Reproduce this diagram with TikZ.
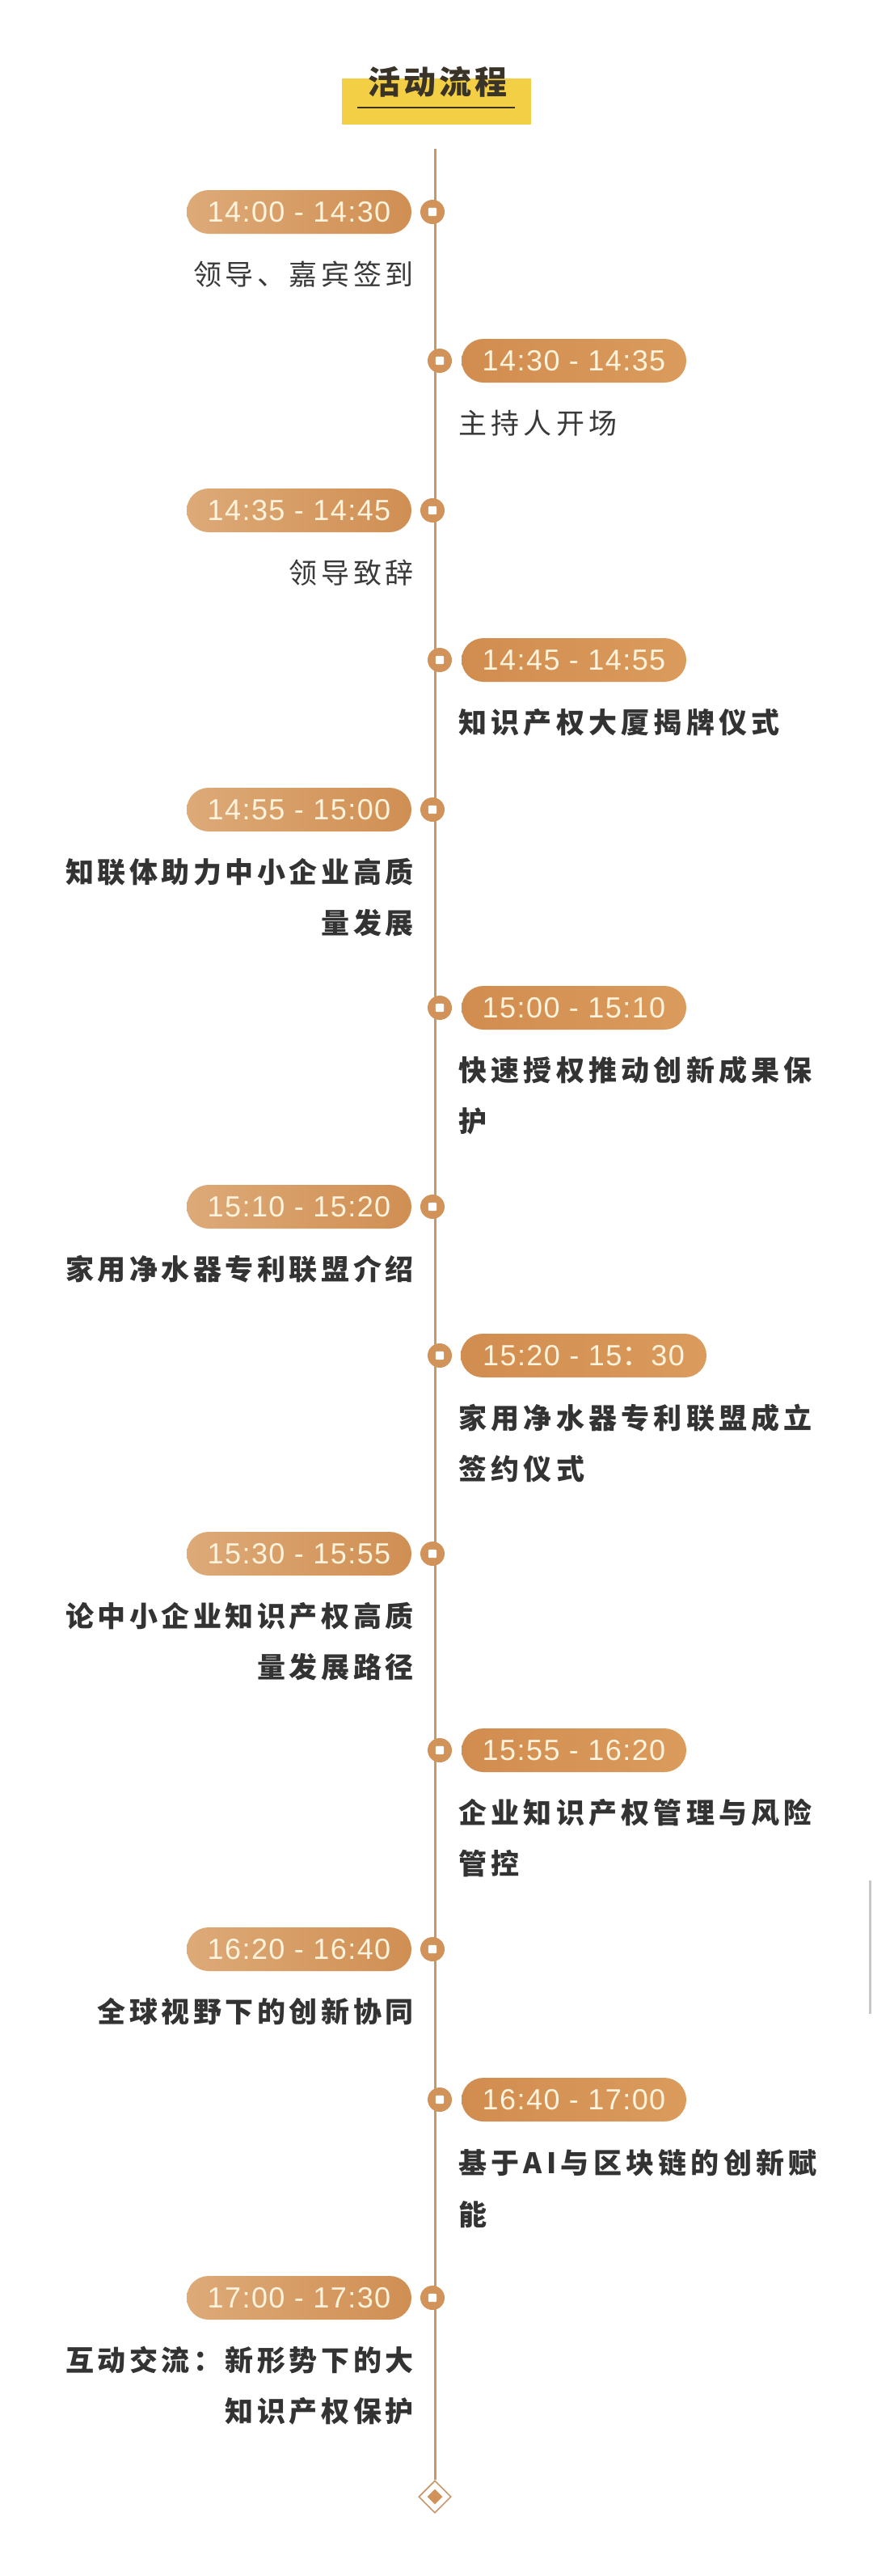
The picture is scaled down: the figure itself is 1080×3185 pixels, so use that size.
\documentclass[tikz,border=0pt]{standalone}
\usepackage{fontspec}
\usetikzlibrary{shapes.geometric}
\setmainfont{Liberation Sans}
\newfontfamily\numfont[LetterSpace=4]{Liberation Sans}
\newfontfamily\cjk[LetterSpace=13]{Noto Sans CJK SC}
\newfontfamily\cjkr[LetterSpace=15]{Noto Sans CJK SC}
\newfontfamily\titlefont[LetterSpace=10]{Noto Sans CJK SC}
\newfontfamily\cjkplain{Noto Sans CJK SC}
\definecolor{pillA}{HTML}{DDAA78}
\definecolor{pillB}{HTML}{D08F53}
\definecolor{pillC}{HTML}{D18D4F}
\definecolor{pillD}{HTML}{DA9B5D}
\definecolor{pilltext}{HTML}{FFF3DC}
\definecolor{dotc}{HTML}{D2935A}
\definecolor{linec}{HTML}{C9976C}
\definecolor{txtreg}{HTML}{3A3A3A}
\definecolor{txtbold}{HTML}{333333}
\definecolor{titleyellow}{HTML}{F2CF44}
\definecolor{titletext}{HTML}{3A3328}
\definecolor{scrollc}{HTML}{C8C8CC}
\tikzset{
  pillL/.style={rectangle, rounded corners=13.5pt, minimum width=139pt, minimum height=27pt, inner sep=0pt,
    left color=pillA, right color=pillB, text=pilltext, font=\numfont\fontsize{18pt}{20pt}\selectfont},
  pillR/.style={pillL, left color=pillC, right color=pillD},
  dotnode/.style={circle, fill=dotc, minimum size=15pt, inner sep=0pt,
    path picture={\fill[white, rounded corners=1pt]
      ([shift={(-2.6pt,-2.6pt)}]path picture bounding box.center) rectangle
      ([shift={(2.6pt,2.6pt)}]path picture bounding box.center);}},
  ltreg/.style={anchor=base east, inner sep=0pt, text=txtreg, font=\cjk\fontsize{17.5pt}{20pt}\selectfont},
  rtreg/.style={anchor=base west, inner sep=0pt, text=txtreg, font=\cjkr\fontsize{17.5pt}{20pt}\selectfont},
  ltb/.style={anchor=base east, inner sep=0pt, text=txtbold, font=\cjk\bfseries\fontsize{17.5pt}{20pt}\selectfont},
  rtb/.style={anchor=base west, inner sep=0pt, text=txtbold, font=\cjkr\bfseries\fontsize{17.5pt}{20pt}\selectfont},
}
\begin{document}
\begin{tikzpicture}[x=0.5pt, y=-0.5pt]
\useasboundingbox (0,0) rectangle (1080,3185);
\fill[white] (0,0) rectangle (1080,3185);
% scrollbar artefact at right edge
\fill[scrollc] (1074.5,2325) rectangle (1077.5,2490);
% title
\fill[titleyellow] (423,97) rectangle (657,154);
\node[anchor=base, inner sep=0pt, text=titletext, font=\titlefont\bfseries\fontsize{20pt}{22pt}\selectfont] (title) at (541,116) {活动流程};
\coordinate (ulA) at (442,133);
\coordinate (ulB) at (637,133);
\draw[titletext, line width=1.3pt] (ulA) -- (ulB);
% timeline
\coordinate (ltop) at (538,184);
\node[diamond, draw=linec, line width=0.8pt, fill=white, minimum size=20pt, inner sep=0pt] (end) at (538,3087) {};
\node[diamond, fill=dotc, minimum size=9.5pt, inner sep=0pt] (endin) at (538,3087) {};
\draw[linec, line width=1.5pt] (ltop) -- (end.north);

% 1
\node[pillL] (p1) at (370,262) {14:00 - 14:30};
\node[dotnode] (d1) at (535,262) {};
\node[ltreg] (t1) at (512,352) {领导、嘉宾签到};
% 2
\node[pillR] (p2) at (710,446) {14:30 - 14:35};
\node[dotnode] (d2) at (544,446) {};
\node[rtreg] (t2) at (567,536) {主持人开场};
% 3
\node[pillL] (p3) at (370,631) {14:35 - 14:45};
\node[dotnode] (d3) at (535,631) {};
\node[ltreg] (t3) at (512,721) {领导致辞};
% 4
\node[pillR] (p4) at (710,816) {14:45 - 14:55};
\node[dotnode] (d4) at (544,816) {};
\node[rtb] (t4) at (567,906) {知识产权大厦揭牌仪式};
% 5
\node[pillL] (p5) at (370,1001) {14:55 - 15:00};
\node[dotnode] (d5) at (535,1001) {};
\node[ltb] (t5a) at (512,1091) {知联体助力中小企业高质};
\node[ltb] (t5b) at (512,1154) {量发展};
% 6
\node[pillR] (p6) at (710,1246) {15:00 - 15:10};
\node[dotnode] (d6) at (544,1246) {};
\node[rtb] (t6a) at (567,1336) {快速授权推动创新成果保};
\node[rtb] (t6b) at (567,1399) {护};
% 7
\node[pillL] (p7) at (370,1492) {15:10 - 15:20};
\node[dotnode] (d7) at (535,1492) {};
\node[ltb] (t7) at (512,1582) {家用净水器专利联盟介绍};
% 8
\node[pillR, minimum width=152pt] (p8) at (722,1676) {15:20 - 15{\cjkplain ：}30};
\node[dotnode] (d8) at (544,1676) {};
\node[rtb] (t8a) at (567,1766) {家用净水器专利联盟成立};
\node[rtb] (t8b) at (567,1829) {签约仪式};
% 9
\node[pillL] (p9) at (370,1921) {15:30 - 15:55};
\node[dotnode] (d9) at (535,1921) {};
\node[ltb] (t9a) at (512,2011) {论中小企业知识产权高质};
\node[ltb] (t9b) at (512,2074) {量发展路径};
% 10
\node[pillR] (p10) at (710,2164) {15:55 - 16:20};
\node[dotnode] (d10) at (544,2164) {};
\node[rtb] (t10a) at (567,2254) {企业知识产权管理与风险};
\node[rtb] (t10b) at (567,2317) {管控};
% 11
\node[pillL] (p11) at (370,2410) {16:20 - 16:40};
\node[dotnode] (d11) at (535,2410) {};
\node[ltb] (t11) at (512,2500) {全球视野下的创新协同};
% 12
\node[pillR] (p12) at (710,2596) {16:40 - 17:00};
\node[dotnode] (d12) at (544,2596) {};
\node[rtb] (t12a) at (567,2687) {基于AI与区块链的创新赋};
\node[rtb] (t12b) at (567,2751) {能};
% 13
\node[pillL] (p13) at (370,2841) {17:00 - 17:30};
\node[dotnode] (d13) at (535,2841) {};
\node[ltb] (t13a) at (512,2931) {互动交流：新形势下的大};
\node[ltb] (t13b) at (512,2994) {知识产权保护};
\end{tikzpicture}
\end{document}
